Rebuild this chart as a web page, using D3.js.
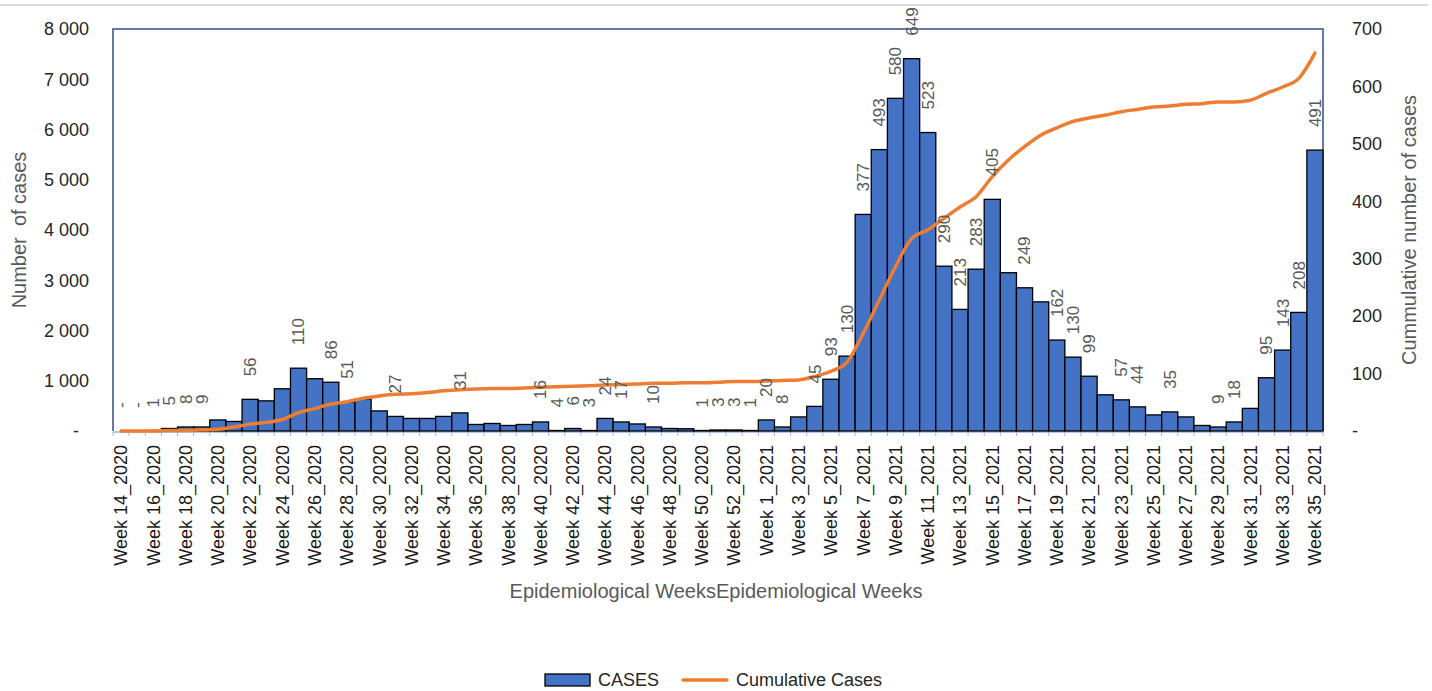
<!DOCTYPE html>
<html>
<head>
<meta charset="utf-8">
<script src="https://cdn.jsdelivr.net/npm/d3@7"></script>
<style>
  body { margin: 0; background: #fff; }
  svg { font-family: "Liberation Sans", Arial, sans-serif; }
</style>
</head>
<body>
<svg width="1432" height="691">
  <g class="frame"></g>
  <g class="vis"></g>
  <g class="axis"></g>
  <g class="legend"></g>
</svg>
<script>
// epidemiological weeks, 14_2020 .. 35_2021
const weeks = [
  'Week 14_2020','Week 15_2020','Week 16_2020','Week 17_2020','Week 18_2020','Week 19_2020','Week 20_2020',
  'Week 21_2020','Week 22_2020','Week 23_2020','Week 24_2020','Week 25_2020','Week 26_2020','Week 27_2020',
  'Week 28_2020','Week 29_2020','Week 30_2020','Week 31_2020','Week 32_2020','Week 33_2020','Week 34_2020',
  'Week 35_2020','Week 36_2020','Week 37_2020','Week 38_2020','Week 39_2020','Week 40_2020','Week 41_2020',
  'Week 42_2020','Week 43_2020','Week 44_2020','Week 45_2020','Week 46_2020','Week 47_2020','Week 48_2020',
  'Week 49_2020','Week 50_2020','Week 51_2020','Week 52_2020','Week 53_2020',
  'Week 1_2021','Week 2_2021','Week 3_2021','Week 4_2021','Week 5_2021','Week 6_2021','Week 7_2021',
  'Week 8_2021','Week 9_2021','Week 10_2021','Week 11_2021','Week 12_2021','Week 13_2021','Week 14_2021',
  'Week 15_2021','Week 16_2021','Week 17_2021','Week 18_2021','Week 19_2021','Week 20_2021','Week 21_2021',
  'Week 22_2021','Week 23_2021','Week 24_2021','Week 25_2021','Week 26_2021','Week 27_2021','Week 28_2021',
  'Week 29_2021','Week 30_2021','Week 31_2021','Week 32_2021','Week 33_2021','Week 34_2021','Week 35_2021'
]

const cases = [
  0, 0, 10, 50, 80, 80, 220, 190, 630, 600, 840, 1250, 1040, 970, 580, 640, 400, 290, 250, 250,
  290, 360, 130, 150, 110, 130, 180, 10, 50, 10, 250, 180, 140, 80, 50, 45, 10, 20, 20, 10,
  220, 80, 280, 490, 1030, 1490, 4310, 5600, 6620, 7410, 5940, 3280, 2420, 3220, 4610, 3150, 2850, 2570, 1810, 1470,
  1090, 720, 620, 480, 320, 380, 280, 110, 80, 180, 450, 1060, 1610, 2360, 5590
]

const cumulative = [
  0, 0, 0, 1, 1, 2, 3, 7, 12, 15, 20, 32, 39, 47, 51, 57, 61, 64, 65, 67,
  70, 72, 73, 74, 74, 75, 76, 77, 78, 79, 80, 81, 82, 83, 83, 84, 84, 85, 86, 86,
  87, 88, 89, 95, 104, 120, 170, 228, 286, 335, 350, 370, 390, 408, 443, 472, 495, 515, 528, 539,
  545, 550, 556, 560, 564, 566, 569, 570, 573, 573, 576, 588, 599, 614, 658
]

// data labels as printed above the bars (null = no label)
const barLabels = [
  '-', '-', '1', '5', '8', '9', null, null, '56', null, null, '110', null, '86', '51', null, null, '27', null, null,
  null, '31', null, null, null, null, '16', '4', '6', '3', '24', '17', null, '10', null, null, '1', '3', '3', '1',
  '20', '8', null, '45', '93', '130', '377', '493', '580', '649', '523', '290', '213', '283', '405', null, '249', null, '162', '130',
  '99', null, '57', '44', null, '35', null, null, '9', '18', null, '95', '143', '208', '491'
]

const leftTicks = [0, 1000, 2000, 3000, 4000, 5000, 6000, 7000, 8000]
const rightTicks = [0, 100, 200, 300, 400, 500, 600, 700]

function render() {
    const svg = d3.select('svg')
    const frame = svg.select('g.frame')
    const vis = svg.select('g.vis')
    const axis = svg.select('g.axis')
    const legend = svg.select('g.legend')

    const left = 113, right = 1323, top = 29, bottom = 431
    const blue = '#4472C4'
    const orange = '#ED7D31'

    const fmt = d3.formatLocale({decimal: '.', thousands: ' ', grouping: [3], currency: ['', '']}).format(',')

    const xScale = d3.scaleBand().domain(weeks).range([left, right]).padding(0)
    const yScale = d3.scaleLinear().domain([0, 8000]).range([bottom, top])
    const y2Scale = d3.scaleLinear().domain([0, 700]).range([bottom, top])

    const nodes = weeks.map((w, i) => ({week: w, value: cases[i], cum: cumulative[i], label: barLabels[i]}))

    // light rule at the very top of the picture
    frame.append('line')
        .attr('x1', 0).attr('x2', 1428).attr('y1', 5).attr('y2', 5)
        .attr('stroke', '#d9d9d9').attr('stroke-width', 2)

    // plot border (top, left, right)
    frame.append('path')
        .attr('d', `M${left},${bottom}V${top}H${right}V${bottom}`)
        .attr('fill', 'none')
        .attr('stroke', '#2F4B8F')
        .attr('stroke-width', 1.5)

    // bottom axis line with small ticks
    frame.append('line')
        .attr('x1', left).attr('x2', right).attr('y1', bottom + 1).attr('y2', bottom + 1)
        .attr('stroke', '#9DB5E0').attr('stroke-width', 1.5)
    frame.selectAll('line.tk')
        .data(weeks.concat(['end']))
        .enter()
        .append('line')
        .attr('class', 'tk')
        .attr('x1', d => d === 'end' ? right : xScale(d))
        .attr('x2', d => d === 'end' ? right : xScale(d))
        .attr('y1', bottom + 1).attr('y2', bottom + 5)
        .attr('stroke', '#9DB5E0')

    // bars
    vis.selectAll('rect')
        .data(nodes)
        .enter()
        .append('rect')
        .attr('x', d => xScale(d.week))
        .attr('width', xScale.bandwidth())
        .attr('y', d => yScale(d.value))
        .attr('height', d => bottom - yScale(d.value))
        .attr('fill', blue)
        .attr('stroke', '#000')
        .attr('stroke-width', 1.3)

    // cumulative line
    const line = d3.line()
        .x(d => xScale(d.week) + xScale.bandwidth() / 2)
        .y(d => y2Scale(d.cum))
        .curve(d3.curveMonotoneX)

    vis.append('path')
        .datum(nodes)
        .attr('d', line)
        .attr('fill', 'none')
        .attr('stroke', orange)
        .attr('stroke-width', 3.5)
        .attr('stroke-linecap', 'round')

    // rotated data labels
    vis.selectAll('text.lbl')
        .data(nodes.filter(d => d.label !== null))
        .enter()
        .append('text')
        .attr('class', 'lbl')
        .attr('transform', d => `translate(${xScale(d.week) + xScale.bandwidth() / 2},${yScale(d.value) - 23}) rotate(-90)`)
        .attr('dy', '0.35em')
        .attr('font-size', 17)
        .attr('fill', '#595959')
        .text(d => d.label)

    // left axis
    const yAxis = axis.append('g')
        .attr('transform', `translate(${left},0)`)
        .call(d3.axisLeft(yScale).tickValues(leftTicks).tickSize(0).tickPadding(24)
            .tickFormat(d => d === 0 ? '-' : fmt(d)))
    yAxis.select('.domain').remove()
    yAxis.selectAll('text').attr('font-size', 18).attr('fill', '#262626').attr('font-family', null)
    yAxis.selectAll('.tick').filter(d => d === 0).select('text').attr('dx', -10)

    // right axis
    const y2Axis = axis.append('g')
        .attr('transform', `translate(${right},0)`)
        .call(d3.axisRight(y2Scale).tickValues(rightTicks).tickSize(0).tickPadding(29)
            .tickFormat(d => d === 0 ? '-' : d))
    y2Axis.select('.domain').remove()
    y2Axis.selectAll('text').attr('font-size', 18).attr('fill', '#262626').attr('font-family', null)

    // bottom axis, every other week
    const xAxis = axis.append('g')
        .attr('transform', `translate(0,${bottom})`)
        .call(d3.axisBottom(xScale).tickValues(weeks.filter((w, i) => i % 2 === 0)).tickSize(0))
    xAxis.select('.domain').remove()
    xAxis.selectAll('text')
        .attr('transform', 'rotate(-90)')
        .attr('x', -14)
        .attr('y', 0)
        .attr('dy', '0.35em')
        .attr('text-anchor', 'end')
        .attr('font-size', 18)
        .attr('fill', '#1a1a1a')
        .attr('font-family', null)

    // axis titles
    axis.append('text')
        .attr('transform', 'translate(26,230) rotate(-90)')
        .attr('text-anchor', 'middle')
        .attr('font-size', 20)
        .attr('fill', '#595959')
        .style('white-space', 'pre')
        .text('Number  of cases')

    axis.append('text')
        .attr('transform', 'translate(1416,230) rotate(-90)')
        .attr('text-anchor', 'middle')
        .attr('font-size', 20)
        .attr('fill', '#595959')
        .text('Cummulative number of cases')

    axis.append('text')
        .attr('x', 716).attr('y', 598)
        .attr('text-anchor', 'middle')
        .attr('font-size', 20)
        .attr('fill', '#595959')
        .text('Epidemiological WeeksEpidemiological Weeks')

    // legend
    legend.append('rect')
        .attr('x', 545).attr('y', 674).attr('width', 45).attr('height', 12)
        .attr('fill', blue).attr('stroke', '#000').attr('stroke-width', 1.3)
    legend.append('text')
        .attr('x', 598).attr('y', 680).attr('dy', '0.35em')
        .attr('font-size', 18).attr('fill', '#262626')
        .text('CASES')
    legend.append('line')
        .attr('x1', 683).attr('x2', 727).attr('y1', 680).attr('y2', 680)
        .attr('stroke', orange).attr('stroke-width', 3.5).attr('stroke-linecap', 'round')
    legend.append('text')
        .attr('x', 736).attr('y', 680).attr('dy', '0.35em')
        .attr('font-size', 18).attr('fill', '#262626')
        .text('Cumulative Cases')
}

render()
</script>
</body>
</html>
